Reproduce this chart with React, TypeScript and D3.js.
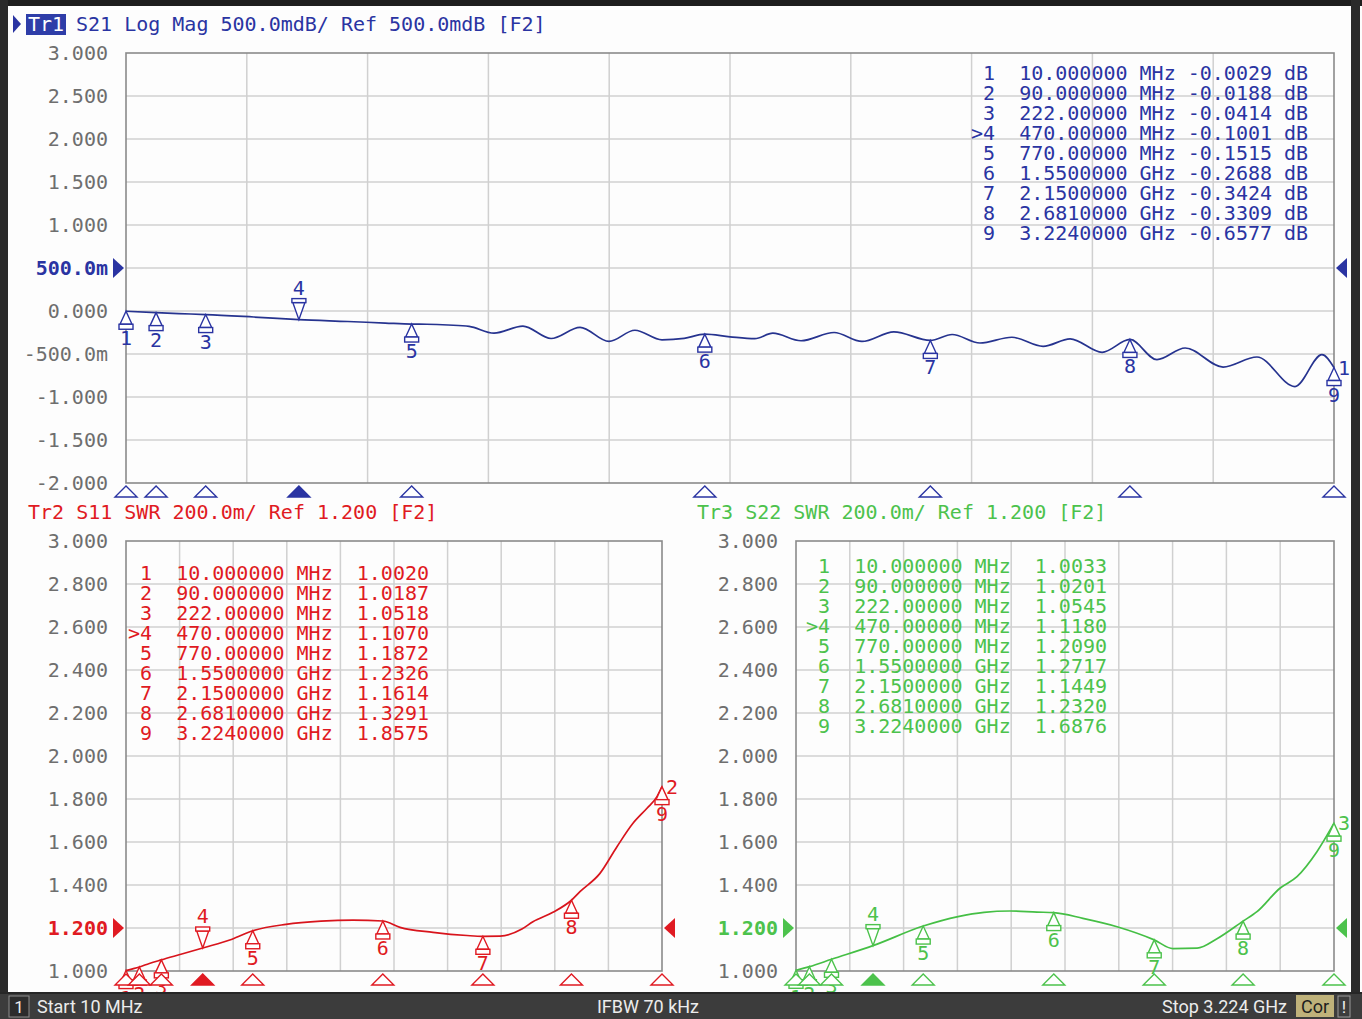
import * as d3 from 'd3';

// sweep
const FREQ_START = 10;
const FREQ_STOP = 3224;

// markers (shared by all three traces)
const markerIds = [1, 2, 3, 4, 5, 6, 7, 8, 9];
const activeMarker = 4;
const markerFreqs = [10, 90, 222, 470, 770, 1550, 2150, 2681, 3224];
const markerFreqLabels = [
  '10.000000 MHz',
  '90.000000 MHz',
  '222.00000 MHz',
  '470.00000 MHz',
  '770.00000 MHz',
  '1.5500000 GHz',
  '2.1500000 GHz',
  '2.6810000 GHz',
  '3.2240000 GHz',
];
const s21MarkerDb = [-0.0029, -0.0188, -0.0414, -0.1001, -0.1515, -0.2688, -0.3424, -0.3309, -0.6577];
const s11MarkerSwr = [1.002, 1.0187, 1.0518, 1.107, 1.1872, 1.2326, 1.1614, 1.3291, 1.8575];
const s22MarkerSwr = [1.0033, 1.0201, 1.0545, 1.118, 1.209, 1.2717, 1.1449, 1.232, 1.6876];

// traces: [MHz, value]
const s21Trace: [number, number][] = [
  [10, -0.003], [90, -0.019], [150, -0.03], [222, -0.041], [350, -0.07], [470, -0.1],
  [600, -0.122], [700, -0.14], [770, -0.152], [810, -0.154], [867, -0.163], [923, -0.178],
  [989, -0.258], [1066, -0.176], [1141, -0.32], [1218, -0.19], [1295, -0.354], [1364, -0.224],
  [1436, -0.335], [1495, -0.318], [1550, -0.269], [1617, -0.3], [1683, -0.322], [1731, -0.258],
  [1806, -0.346], [1894, -0.25], [1968, -0.354], [2053, -0.243], [2150, -0.342], [2208, -0.273],
  [2282, -0.372], [2367, -0.305], [2450, -0.411], [2522, -0.324], [2607, -0.48], [2681, -0.331],
  [2753, -0.566], [2828, -0.43], [2929, -0.652], [3019, -0.535], [3120, -0.879], [3192, -0.508],
  [3224, -0.658],
];
const s11Trace: [number, number][] = [
  [10, 1.002], [50, 1.01], [90, 1.0187], [150, 1.035], [222, 1.0518], [350, 1.08], [470, 1.107],
  [646, 1.148], [770, 1.1872], [969, 1.217], [1179, 1.232], [1371, 1.237], [1550, 1.2326],
  [1653, 1.203], [1851, 1.18], [2055, 1.165], [2150, 1.1614], [2253, 1.162], [2384, 1.195],
  [2450, 1.229], [2570, 1.273], [2681, 1.3291], [2732, 1.369], [2852, 1.454], [2954, 1.578],
  [3050, 1.687], [3134, 1.757], [3194, 1.811], [3224, 1.8575],
];
const s22Trace: [number, number][] = [
  [10, 1.0033], [90, 1.0201], [222, 1.0545], [470, 1.118], [770, 1.209], [978, 1.253],
  [1133, 1.273], [1288, 1.279], [1450, 1.274], [1550, 1.2717], [1724, 1.245], [1928, 1.206],
  [2150, 1.1449], [2262, 1.104], [2406, 1.106], [2525, 1.15], [2681, 1.232], [2764, 1.276],
  [2901, 1.385], [3003, 1.439], [3122, 1.555], [3224, 1.6876],
];

// axes
const logMagTicks = [3, 2.5, 2, 1.5, 1, 0.5, 0, -0.5, -1, -1.5, -2];
const logMagTickLabels = ['3.000', '2.500', '2.000', '1.500', '1.000', '500.0m', '0.000', '-500.0m', '-1.000', '-1.500', '-2.000'];
const swrTicks = [3, 2.8, 2.6, 2.4, 2.2, 2, 1.8, 1.6, 1.4, 1.2, 1];
const swrTickLabels = ['3.000', '2.800', '2.600', '2.400', '2.200', '2.000', '1.800', '1.600', '1.400', '1.200', '1.000'];

const MONO = "'DejaVu Sans Mono', 'Liberation Mono', monospace";
const SANS = "'Liberation Sans Narrow', Roboto, 'DejaVu Sans', sans-serif";
const BLUE = '#2a34a2';
const RED = '#e01a22';
const GREEN = '#4cc24c';
const TICK_GREY = '#6e6e6e';
const GRID = '#d0d0d0';

interface PanelProps {
  left: number;
  right: number;
  top: number;
  bottom: number;
  yDomain: [number, number];
  ticks: number[];
  tickLabels: string[];
  refValue: number;
  color: string;
  traceColor: string;
  trace: [number, number][];
  markerValues: number[];
  traceNo: string;
  tableX: number;
  tableY: number;
  unit: 'dB' | '';
}

function Panel(p: PanelProps) {
  const x = d3.scaleLinear().domain([FREQ_START, FREQ_STOP]).range([p.left, p.right]);
  const y = d3.scaleLinear().domain(p.yDomain).range([p.bottom, p.top]);
  const xGrid = d3.range(1, 10).map((i) => FREQ_START + (i * (FREQ_STOP - FREQ_START)) / 10);
  const line = d3
    .line<[number, number]>()
    .x((d) => x(d[0]))
    .y((d) => y(d[1]))
    .curve(d3.curveMonotoneX);
  const yr = y(p.refValue);
  const last = p.trace[p.trace.length - 1];

  return (
    <g>
      {/* grid */}
      {xGrid.map((f) => (
        <line key={`vx-${f}`} x1={x(f)} x2={x(f)} y1={p.top} y2={p.bottom} stroke={GRID} strokeWidth={1.5} />
      ))}
      {p.ticks.slice(1, -1).map((t) => (
        <line key={`hy-${t}`} x1={p.left} x2={p.right} y1={y(t)} y2={y(t)} stroke={GRID} strokeWidth={1.5} />
      ))}
      <rect
        x={p.left}
        y={p.top}
        width={p.right - p.left}
        height={p.bottom - p.top}
        fill="none"
        stroke="#8a8a8a"
        strokeWidth={1.6}
      />

      {/* tick labels */}
      {p.ticks.map((t, i) => {
        const isRef = t === p.refValue;
        return (
          <text
            key={`tl-${t}`}
            x={p.left - 18}
            y={y(t)}
            dy="0.35em"
            textAnchor="end"
            fontFamily={MONO}
            fontSize={20}
            fill={isRef ? p.color : TICK_GREY}
            fontWeight={isRef ? 'bold' : 'normal'}
          >
            {p.tickLabels[i]}
          </text>
        );
      })}

      {/* reference position arrows */}
      <polygon
        points={`${p.left - 13},${yr - 10} ${p.left - 2},${yr} ${p.left - 13},${yr + 10}`}
        fill={p.color}
      />
      <polygon
        points={`${p.right + 2},${yr} ${p.right + 13},${yr - 10} ${p.right + 13},${yr + 10}`}
        fill={p.color}
      />

      {/* marker table */}
      {markerIds.map((id, i) => {
        const v = p.markerValues[i];
        const val = p.unit === 'dB' ? `${v < 0 ? '-' : ' '}${Math.abs(v).toFixed(4)} dB` : ` ${v.toFixed(4)}`;
        const row = `${id === activeMarker ? '>' : ' '}${id}  ${markerFreqLabels[i]} ${val}`;
        return (
          <text
            key={`tb-${id}`}
            x={p.tableX}
            y={p.tableY + i * 20}
            dy="0.35em"
            fontFamily={MONO}
            fontSize={20}
            fill={p.color}
            xmlSpace="preserve"
            style={{ whiteSpace: 'pre' }}
          >
            {row}
          </text>
        );
      })}

      {/* trace */}
      <path d={line(p.trace) ?? undefined} fill="none" stroke={p.traceColor} strokeWidth={1.7} strokeLinejoin="round" />
      <text
        x={p.right + 4}
        y={y(last[1])}
        dy="0.35em"
        fontFamily={MONO}
        fontSize={20}
        fill={p.color}
      >
        {p.traceNo}
      </text>

      {/* markers on the trace */}
      {markerIds.map((id, i) => {
        const mx = x(markerFreqs[i]);
        const my = y(p.markerValues[i]);
        if (id === activeMarker) {
          return (
            <g key={`mk-${id}`} stroke={p.color} strokeWidth={1.4}>
              <polygon points={`${mx},${my} ${mx - 6},${my - 17} ${mx + 6},${my - 17}`} fill="white" />
              <rect x={mx - 7} y={my - 21} width={14} height={4} fill="white" />
              <text
                x={mx}
                y={my - 25}
                textAnchor="middle"
                fontFamily={MONO}
                fontSize={20}
                fill={p.color}
                stroke="none"
              >
                {id}
              </text>
            </g>
          );
        }
        return (
          <g key={`mk-${id}`} stroke={p.color} strokeWidth={1.4}>
            <polygon points={`${mx},${my} ${mx - 6},${my + 13} ${mx + 6},${my + 13}`} fill="white" />
            <rect x={mx - 7} y={my + 13} width={14} height={5} fill="white" />
            <text
              x={mx}
              y={my + 34}
              textAnchor="middle"
              fontFamily={MONO}
              fontSize={20}
              fill={p.color}
              stroke="none"
            >
              {id}
            </text>
          </g>
        );
      })}

      {/* stimulus markers under the grid */}
      {markerIds.map((id, i) => {
        const mx = x(markerFreqs[i]);
        const active = id === activeMarker;
        return (
          <polygon
            key={`st-${id}`}
            points={`${mx},${p.bottom + 3} ${mx - 11},${p.bottom + 14} ${mx + 11},${p.bottom + 14}`}
            fill={active ? p.color : 'white'}
            stroke={p.color}
            strokeWidth={1.4}
          />
        );
      })}
    </g>
  );
}

export default function App() {
  const W = 1362;
  const H = 1019;
  return (
    <div style={{ position: 'absolute', left: 0, top: 0 }}>
      <svg width={W} height={H} style={{ display: 'block' }}>
        <rect x={0} y={0} width={W} height={H} fill="#fdfdfd" />

        {/* Tr1 header */}
        <polygon points="13,15 21,24 13,33" fill={BLUE} />
        <rect x={26} y={14} width={40} height={21} fill="#2e3da8" />
        <text x={28} y={24} dy="0.35em" fontFamily={MONO} fontSize={20} fill="white">
          Tr1
        </text>
        <text x={76} y={24} dy="0.35em" fontFamily={MONO} fontSize={20} fill={BLUE}>
          S21 Log Mag 500.0mdB/ Ref 500.0mdB [F2]
        </text>

        <Panel
          left={126}
          right={1334}
          top={53}
          bottom={483}
          yDomain={[-2, 3]}
          ticks={logMagTicks}
          tickLabels={logMagTickLabels}
          refValue={0.5}
          color={BLUE}
          traceColor="#26338f"
          trace={s21Trace}
          markerValues={s21MarkerDb}
          traceNo="1"
          tableX={971}
          tableY={73}
          unit="dB"
        />

        {/* Tr2 header */}
        <text x={28} y={512} dy="0.35em" fontFamily={MONO} fontSize={20} fill={RED}>
          Tr2 S11 SWR 200.0m/ Ref 1.200 [F2]
        </text>
        <Panel
          left={126}
          right={662}
          top={541}
          bottom={971}
          yDomain={[1, 3]}
          ticks={swrTicks}
          tickLabels={swrTickLabels}
          refValue={1.2}
          color={RED}
          traceColor="#d8141c"
          trace={s11Trace}
          markerValues={s11MarkerSwr}
          traceNo="2"
          tableX={128}
          tableY={573}
          unit=""
        />

        {/* Tr3 header */}
        <text x={697} y={512} dy="0.35em" fontFamily={MONO} fontSize={20} fill={GREEN}>
          Tr3 S22 SWR 200.0m/ Ref 1.200 [F2]
        </text>
        <Panel
          left={796}
          right={1334}
          top={541}
          bottom={971}
          yDomain={[1, 3]}
          ticks={swrTicks}
          tickLabels={swrTickLabels}
          refValue={1.2}
          color={GREEN}
          traceColor="#45bf45"
          trace={s22Trace}
          markerValues={s22MarkerSwr}
          traceNo="3"
          tableX={806}
          tableY={566}
          unit=""
        />

        {/* window frame */}
        <rect x={0} y={0} width={W} height={6} fill="#1e1e1e" />
        <rect x={0} y={0} width={8} height={H} fill="#2a2a2a" />
        <rect x={1351} y={0} width={9} height={H} fill="#2a2a2a" />

        {/* status bar */}
        <rect x={0} y={992} width={W} height={27} fill="#3c3c3c" />
        <rect x={0} y={992} width={W} height={2} fill="#262626" />
        <rect x={9} y={996} width={20} height={21} fill="#2c2c2c" stroke="#8c8c8c" strokeWidth={1} />
        <text x={19} y={1007} dy="0.35em" textAnchor="middle" fontFamily={SANS} fontSize={17} fill="#ececec">
          1
        </text>
        <text x={37} y={1007} dy="0.35em" fontFamily={SANS} fontSize={18} fill="#ececec">
          Start 10 MHz
        </text>
        <text x={648} y={1007} dy="0.35em" textAnchor="middle" fontFamily={SANS} fontSize={18} fill="#ececec">
          IFBW 70 kHz
        </text>
        <text x={1287} y={1007} dy="0.35em" textAnchor="end" fontFamily={SANS} fontSize={18} fill="#ececec">
          Stop 3.224 GHz
        </text>
        <rect x={1296} y={995} width={38} height={22} fill="#bfb27a" />
        <text x={1315} y={1007} dy="0.35em" textAnchor="middle" fontFamily={SANS} fontSize={18} fill="#1e1e1e">
          Cor
        </text>
        <rect x={1338} y={996} width={12} height={21} fill="#3c3c3c" stroke="#9a9a9a" strokeWidth={1} />
        <text x={1344} y={1007} dy="0.35em" textAnchor="middle" fontFamily={SANS} fontSize={17} fill="#ececec">
          !
        </text>
      </svg>
    </div>
  );
}
